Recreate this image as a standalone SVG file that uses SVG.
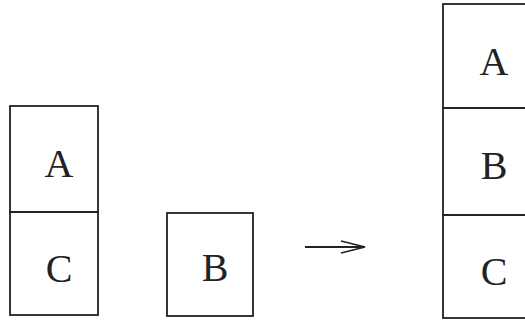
<svg xmlns="http://www.w3.org/2000/svg" width="525" height="325" viewBox="0 0 525 325">
<style>
.box{fill:none;stroke:#222;stroke-width:1.8}
.lbl{font-family:"Liberation Serif",serif;font-size:40px;fill:#222;text-anchor:middle}
.conn{fill:none;stroke:#222;stroke-width:1.8}
</style>
<rect width="525" height="325" fill="#fff"/>
<g id="left-A"><rect class="box" x="10" y="106" width="88" height="106"/><text class="lbl" x="59" y="177">A</text></g>
<g id="left-C"><rect class="box" x="10" y="212" width="88" height="103"/><text class="lbl" x="59" y="282">C</text></g>
<g id="B"><rect class="box" x="167" y="213" width="86" height="103"/><text class="lbl" x="215" y="281">B</text></g>
<g id="right-A"><rect class="box" x="443" y="4" width="90" height="104"/><text class="lbl" x="494" y="75">A</text></g>
<g id="right-B"><rect class="box" x="443" y="108" width="90" height="107"/><text class="lbl" x="494" y="179">B</text></g>
<g id="right-C"><rect class="box" x="443" y="215" width="90" height="103"/><text class="lbl" x="494" y="285">C</text></g>
<g id="connectors">
<line class="conn" x1="305" y1="247" x2="364" y2="247"/>
<polyline class="conn" points="341,241 365,247 341,253"/>
</g>
</svg>
